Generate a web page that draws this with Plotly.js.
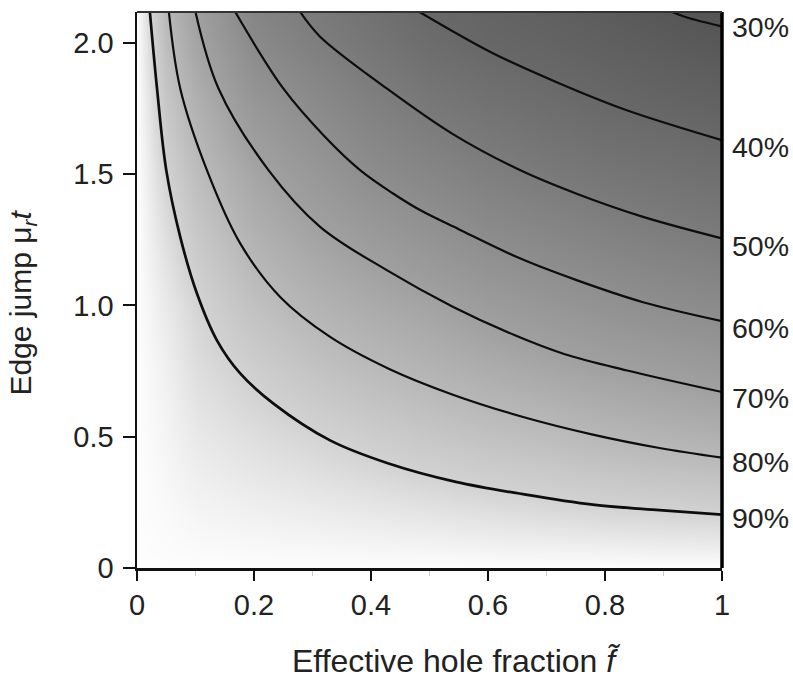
<!DOCTYPE html>
<html>
<head>
<meta charset="utf-8">
<script src="https://cdn.plot.ly/plotly-3.0.1.min.js"></script>
<style>html,body{margin:0;padding:0;background:#fff;}#chart{width:793px;height:679px;}</style>
</head>
<body>
<div id="chart"></div>
<script>
// ---- background shading grid (relative value, read from the grey levels / contours) ----
const fGrid = [0, 0.05, 0.1, 0.2, 0.3, 0.4, 0.5, 0.6, 0.7, 0.8, 0.9, 1.0];
const muGrid = [0, 0.25, 0.5, 0.75, 1.0, 1.25, 1.5, 1.75, 2.0, 2.12];
const shadeZ = [
  [1, 1, 1, 1, 1, 1, 1, 1, 1, 1, 1, 1],
  [1, 0.99, 0.976, 0.964, 0.953, 0.942, 0.930, 0.917, 0.906, 0.894, 0.886, 0.878],
  [1, 0.98, 0.953, 0.928, 0.906, 0.881, 0.857, 0.835, 0.819, 0.798, 0.781, 0.768],
  [1, 0.97, 0.929, 0.887, 0.845, 0.811, 0.783, 0.755, 0.730, 0.707, 0.689, 0.670],
  [1, 0.955, 0.906, 0.833, 0.783, 0.745, 0.713, 0.674, 0.646, 0.621, 0.597, 0.581],
  [1, 0.93, 0.866, 0.778, 0.720, 0.674, 0.632, 0.594, 0.567, 0.542, 0.521, 0.502],
  [1, 0.90, 0.820, 0.722, 0.655, 0.595, 0.557, 0.521, 0.493, 0.471, 0.453, 0.434],
  [1, 0.86, 0.773, 0.653, 0.589, 0.532, 0.487, 0.455, 0.430, 0.405, 0.389, 0.373],
  [1, 0.82, 0.720, 0.579, 0.521, 0.471, 0.423, 0.393, 0.378, 0.357, 0.335, 0.317],
  [1, 0.80, 0.700, 0.550, 0.500, 0.450, 0.400, 0.380, 0.360, 0.336, 0.311, 0.292]
];

// ---- contour lines (f, mu_r t) ----
const levelLabels = ['30%', '40%', '50%', '60%', '70%', '80%', '90%'];
const labelMu = [2.06, 1.604, 1.225, 0.913, 0.646, 0.403, 0.190];

const c90_f  = [0.0220, 0.0342, 0.0500, 0.0739, 0.1025, 0.1366, 0.1764, 0.2333, 0.3301, 0.4300, 0.5450, 0.6600, 0.7792, 0.8931, 1.0];
const c90_mu = [2.117, 1.826, 1.515, 1.261, 1.045, 0.867, 0.741, 0.626, 0.486, 0.398, 0.328, 0.281, 0.241, 0.220, 0.203];
const c80_f  = [0.0545, 0.0739, 0.1195, 0.1764, 0.2447, 0.3301, 0.4320, 0.5400, 0.6600, 0.7792, 0.8931, 1.0];
const c80_mu = [2.117, 1.826, 1.515, 1.236, 1.032, 0.880, 0.757, 0.660, 0.575, 0.508, 0.457, 0.420];
const c70_f  = [0.1000, 0.1393, 0.2247, 0.3130, 0.4269, 0.5406, 0.6460, 0.7300, 0.8360, 1.0];
const c70_mu = [2.117, 1.826, 1.515, 1.299, 1.134, 0.994, 0.886, 0.815, 0.753, 0.670];
const c60_f  = [0.1680, 0.2500, 0.3216, 0.3813, 0.4377, 0.4838, 0.5500, 0.6545, 0.7514, 0.8651, 1.0];
const c60_mu = [2.117, 1.826, 1.641, 1.515, 1.426, 1.363, 1.290, 1.179, 1.096, 1.012, 0.940];
const c50_f  = [0.2790, 0.3130, 0.4269, 0.5400, 0.6545, 0.7514, 0.8651, 1.0];
const c50_mu = [2.117, 2.023, 1.826, 1.652, 1.515, 1.425, 1.337, 1.255];
const c40_f  = [0.4830, 0.6084, 0.7223, 0.8360, 1.0];
const c40_mu = [2.117, 1.960, 1.845, 1.744, 1.629];
const c30_f  = [0.9150, 0.9400, 1.0];
const c30_mu = [2.117, 2.096, 2.062];

const xTicks = [0, 0.2, 0.4, 0.6, 0.8, 1];
const xTickText = ['0', '0.2', '0.4', '0.6', '0.8', '1'];
const yTicks = [0, 0.5, 1.0, 1.5, 2.0];
const yTickText = ['0', '0.5', '1.0', '1.5', '2.0'];

const FONT = 'Liberation Sans, Arial, Helvetica, sans-serif';

const contourSets = [
  [c30_f, c30_mu], [c40_f, c40_mu], [c50_f, c50_mu], [c60_f, c60_mu],
  [c70_f, c70_mu], [c80_f, c80_mu], [c90_f, c90_mu]
];

const traces = [{
  type: 'heatmap',
  x: fGrid, y: muGrid, z: shadeZ,
  zsmooth: 'best',
  zmin: 0.25, zmax: 1,
  colorscale: [
    [0, 'rgb(75,75,75)'], [0.2, 'rgb(104,104,104)'], [0.4667, 'rgb(142,142,142)'],
    [0.6, 'rgb(160,160,160)'], [0.7333, 'rgb(184,184,184)'], [0.8667, 'rgb(210,210,210)'],
    [1, 'rgb(253,253,253)']
  ],
  showscale: false, hoverinfo: 'skip'
}];
contourSets.forEach((s, i) => {
  traces.push({
    type: 'scatter', mode: 'lines', x: s[0], y: s[1],
    name: levelLabels[i],
    line: {color: '#0d0d0d', width: i === 6 ? 2.7 : 2.2, shape: 'spline', smoothing: 1},
    showlegend: false, hoverinfo: 'skip', cliponaxis: true
  });
});

const annotations = levelLabels.map((t, i) => ({
  text: t, xref: 'paper', yref: 'y', x: 1, y: labelMu[i],
  xanchor: 'left', yanchor: 'middle', xshift: 8, showarrow: false,
  font: {family: FONT, size: 28.5, color: '#222'}
}));
annotations.push({
  text: 'Effective hole fraction <i>f\u0303</i>', xref: 'paper', yref: 'paper',
  x: 0.545, y: -0.168, xanchor: 'center', yanchor: 'middle', showarrow: false,
  font: {family: FONT, size: 32, color: '#222'}
});
annotations.push({
  text: 'Edge jump \u03bc<sub><i>r</i></sub><i>t</i>', xref: 'paper', yref: 'paper',
  x: -0.196, y: 0.478, xanchor: 'center', yanchor: 'middle', textangle: -90, showarrow: false,
  font: {family: FONT, size: 30, color: '#222'}
});

const layout = {
  width: 793, height: 679,
  margin: {l: 137, r: 71, t: 12, b: 111, pad: 0},
  paper_bgcolor: '#fff', plot_bgcolor: '#fff',
  showlegend: false,
  xaxis: {
    range: [0, 1], tickvals: xTicks, ticktext: xTickText,
    ticks: 'outside', ticklen: 10, tickwidth: 2, tickcolor: '#111',
    showline: true, linewidth: 2.5, linecolor: '#111',
    showgrid: false, zeroline: false,
    tickfont: {family: FONT, size: 29, color: '#222'},
    minor: {dtick: 0.1, ticks: 'outside', ticklen: 5, tickcolor: '#ccc', tickwidth: 1.5, showgrid: false}
  },
  yaxis: {
    range: [0, 2.117], tickvals: yTicks, ticktext: yTickText,
    ticks: 'outside', ticklen: 12, tickwidth: 2, tickcolor: '#111',
    showline: true, linewidth: 2.5, linecolor: '#111',
    showgrid: false, zeroline: false,
    ticklabelstandoff: 3,
    tickfont: {family: FONT, size: 29, color: '#222'}
  },
  shapes: [
    {type: 'line', xref: 'paper', yref: 'paper', x0: 1, x1: 1, y0: 0, y1: 1, line: {color: '#000', width: 3.5}},
    {type: 'line', xref: 'paper', yref: 'paper', x0: 0, x1: 1, y0: 1, y1: 1, line: {color: '#333', width: 2}}
  ],
  annotations: annotations
};

Plotly.newPlot('chart', traces, layout, {staticPlot: true, displayModeBar: false});
</script>
</body>
</html>
